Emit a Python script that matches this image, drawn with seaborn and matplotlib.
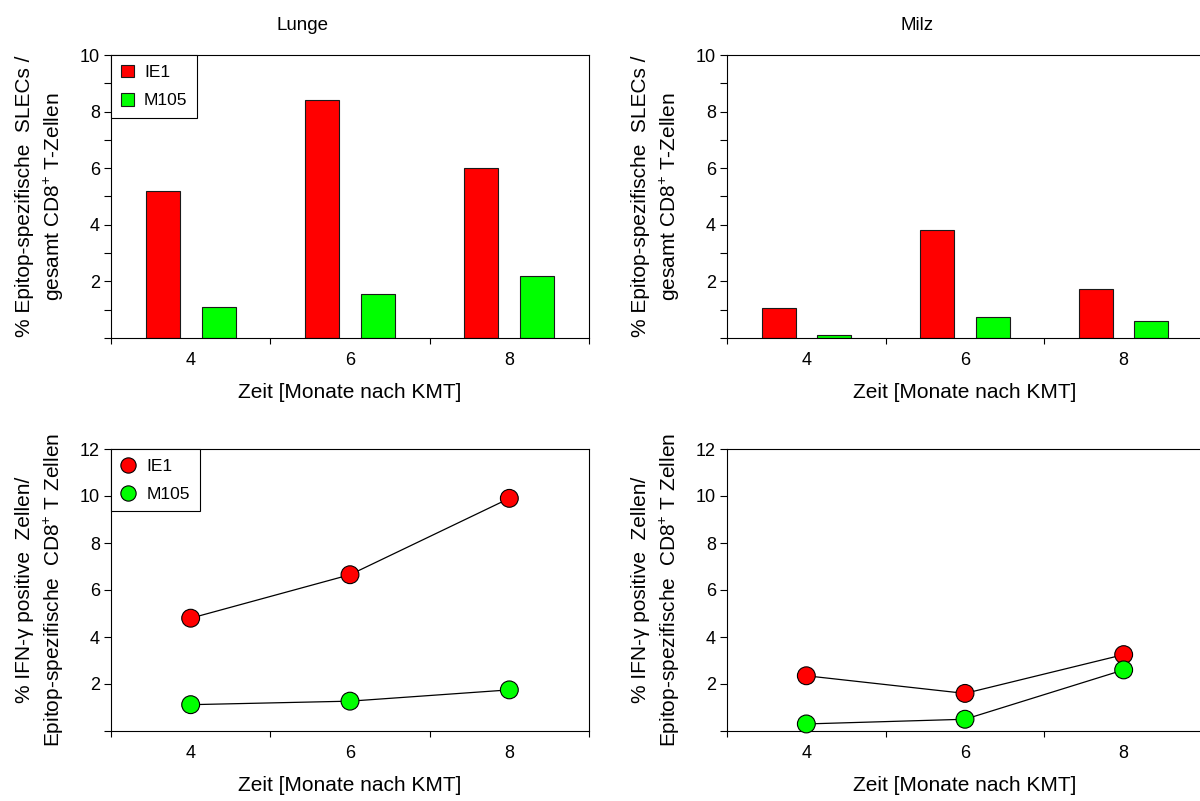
import matplotlib
matplotlib.use("Agg")
import matplotlib.pyplot as plt
import pandas as pd
import seaborn as sns

# Time points (months after bone-marrow transplantation) and epitopes
months = [4, 6, 8]
epitopes = ["IE1", "M105"]
epitope_colors = ["#ff0000", "#00ff00"]

# % epitope-specific SLECs of all CD8+ T cells
slec_lunge_ie1 = [5.2, 8.4, 6.0]
slec_lunge_m105 = [1.08, 1.55, 2.2]
slec_milz_ie1 = [1.06, 3.83, 1.73]
slec_milz_m105 = [0.1, 0.75, 0.6]

# % IFN-gamma positive cells of epitope-specific CD8+ T cells
ifng_lunge_ie1 = [4.8, 6.65, 9.9]
ifng_lunge_m105 = [1.12, 1.27, 1.75]
ifng_milz_ie1 = [2.35, 1.6, 3.25]
ifng_milz_m105 = [0.3, 0.5, 2.6]

organs = ["Lunge", "Milz"]
xlabel = "Zeit [Monate nach KMT]"
ylabel_slec = "% Epitop-spezifische  SLECs /\ngesamt CD8$^{+}$ T-Zellen"
ylabel_ifng = "% IFN-\u03b3 positive  Zellen/\nEpitop-spezifische  CD8$^{+}$ T Zellen"

palette = dict(zip(epitopes, epitope_colors))

sns.set_theme(style="ticks")
plt.rcParams["font.family"] = ["Liberation Sans", "DejaVu Sans"]
plt.rcParams.update({
    "mathtext.fontset": "custom",
    "mathtext.rm": "Liberation Sans",
    "mathtext.it": "Liberation Sans:italic",
    "mathtext.bf": "Liberation Sans:bold",
    "mathtext.default": "regular",
    "axes.edgecolor": "black",
    "axes.linewidth": 0.8,
    "xtick.color": "black",
    "ytick.color": "black",
    "text.color": "black",
    "axes.labelcolor": "black",
})

W, H = 1200, 801
fig = plt.figure(figsize=(W / 100, H / 100), dpi=100)


def px_axes(left, top, right, bottom):
    return fig.add_axes([left / W, 1 - bottom / H, (right - left) / W, (bottom - top) / H])


def long_frame(ie1, m105):
    return pd.DataFrame({
        "Monat": months * 2,
        "Epitop": [epitopes[0]] * len(months) + [epitopes[1]] * len(months),
        "Wert": list(ie1) + list(m105),
    })


def style_axis(ax, ylabel):
    ax.tick_params(axis="x", which="major", length=4, width=0.8, direction="out")
    ax.tick_params(axis="x", which="minor", length=0, pad=10, labelsize=13)
    ax.tick_params(axis="y", which="both", length=5, width=0.8, direction="out",
                   labelsize=13, pad=3)
    for side in ["top", "right", "left", "bottom"]:
        ax.spines[side].set_visible(True)
        ax.spines[side].set_linewidth(0.8)
    ax.set_xlabel(xlabel, fontsize=15)
    ax.xaxis.set_label_coords(0.5, -0.16)
    ax.set_ylabel(ylabel, fontsize=15, linespacing=1.45)
    ax.yaxis.set_label_coords(-0.094, 0.5)


def add_legend(ax, **kw):
    handles, labels = ax.get_legend_handles_labels()
    leg = ax.legend(handles, labels, loc="upper left", bbox_to_anchor=(0, 1),
                    borderaxespad=0, frameon=True, fancybox=False,
                    edgecolor="black", framealpha=1, fontsize=12.5,
                    handletextpad=0.6, labelspacing=0.75, borderpad=0.55, **kw)
    leg.get_frame().set_linewidth(0.8)
    return leg


def bar_panel(ax, ie1, m105, show_legend):
    df = long_frame(ie1, m105)
    sns.barplot(data=df, x="Monat", y="Wert", hue="Epitop", hue_order=epitopes,
                palette=palette, saturation=1, width=0.7, gap=0.39, errorbar=None,
                edgecolor="#1a1a1a", linewidth=0.8, legend=show_legend, ax=ax)
    ax.set_xlim(-0.5, len(months) - 0.5)
    ax.set_xticks([i - 0.5 for i in range(len(months) + 1)], [""] * (len(months) + 1))
    ax.set_xticks(range(len(months)), [str(m) for m in months], minor=True)
    ax.set_ylim(0, 10)
    ax.set_yticks(range(0, 11, 2), ["" if v == 0 else str(v) for v in range(0, 11, 2)])
    ax.set_yticks([1, 3, 5, 7, 9], minor=True)
    style_axis(ax, ylabel_slec)
    if show_legend:
        add_legend(ax, handlelength=0.75, handleheight=0.75)


def line_panel(ax, ie1, m105, show_legend):
    df = long_frame(ie1, m105)
    sns.lineplot(data=df, x="Monat", y="Wert", units="Epitop", estimator=None,
                 color="black", linewidth=0.9, ax=ax, zorder=2)
    sns.scatterplot(data=df, x="Monat", y="Wert", hue="Epitop", hue_order=epitopes,
                    palette=palette, s=165, edgecolor="black", linewidth=0.8,
                    legend=show_legend, ax=ax, zorder=3, clip_on=False)
    ax.set_xlim(3, 9)
    ax.set_xticks([3, 5, 7, 9], [""] * 4)
    ax.set_xticks(months, [str(m) for m in months], minor=True)
    ax.set_ylim(0, 12)
    ax.set_yticks(range(0, 13, 2), ["" if v == 0 else str(v) for v in range(0, 13, 2)])
    ax.set_yticks([], minor=True)
    style_axis(ax, ylabel_ifng)
    if show_legend:
        leg = add_legend(ax, handlelength=0.9)
        for h in leg.legend_handles:
            if hasattr(h, "set_markersize"):
                h.set_markersize(11)


ax_tl = px_axes(111, 55, 589, 338)
ax_tr = px_axes(727, 55, 1203, 338)
ax_bl = px_axes(111, 449, 589, 731)
ax_br = px_axes(727, 449, 1203, 731)

bar_panel(ax_tl, slec_lunge_ie1, slec_lunge_m105, True)
bar_panel(ax_tr, slec_milz_ie1, slec_milz_m105, False)
line_panel(ax_bl, ifng_lunge_ie1, ifng_lunge_m105, True)
line_panel(ax_br, ifng_milz_ie1, ifng_milz_m105, False)

fig.text(302 / W, 1 - 26 / H, organs[0], ha="center", va="center", fontsize=13.5)
fig.text(917 / W, 1 - 26 / H, organs[1], ha="center", va="center", fontsize=13.5)

fig.savefig("out.png", dpi=100)
